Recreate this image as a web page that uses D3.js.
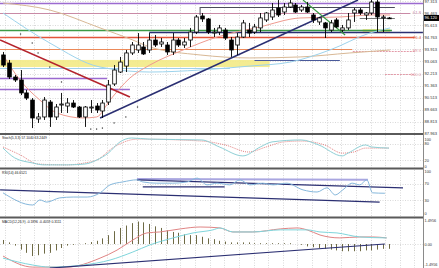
<!DOCTYPE html>
<html><head><meta charset="utf-8">
<script src="https://cdn.jsdelivr.net/npm/d3@7"></script>
<style>body{margin:0;background:#fff;overflow:hidden}svg{display:block;font-family:"Liberation Sans",Arial,sans-serif}</style>
</head><body><svg id="c" width="439" height="268"></svg>
<script>
// ---------- DATA ----------
const candleOpen  = [93.52,92.95,91.97,91.76,90.85,90.35,89.02,89.16,90.21,89.16, 90.00,89.93,90.14,89.86,89.16,89.79,89.93,89.58,90.21,91.48, 92.32,92.74,93.66,93.87,94.08,93.87,94.57,94.29,94.22,93.73, 94.57,94.22,94.57,95.13,96.26,96.05,95.06,95.13,95.27,94.57, 94.22,94.78,95.27,95.13,95.42,95.98,96.19,96.82,96.54,96.89, 97.03,96.68,96.89,96.33,95.84,95.77,95.27,95.98,95.27,95.42, 96.47,96.68,96.33,96.47,97.24,96.12,96.12];
const candleHigh  = [93.73,93.17,92.11,92.46,91.06,90.49,89.44,90.56,90.35,90.07, 90.85,90.49,90.35,89.93,89.93,90.35,90.14,90.35,91.76,92.81, 93.38,93.87,94.43,95.06,94.43,95.06,94.92,94.71,94.43,95.06, 94.71,94.71,95.42,96.33,96.47,96.12,95.42,95.63,95.42,94.78, 95.06,95.98,95.77,95.70,96.47,96.54,97.17,97.38,97.17,97.38, 97.17,97.03,97.24,96.47,96.19,95.84,95.98,96.12,95.63,96.47, 96.82,96.82,96.54,97.38,97.38,96.33,96.19];
const candleLow   = [92.67,91.83,91.62,90.70,90.35,88.38,88.74,88.95,88.46,88.95, 89.44,89.44,89.79,89.09,88.46,89.44,89.44,89.09,90.00,91.34, 92.25,92.32,93.52,93.66,93.52,93.66,94.08,94.08,93.52,93.52, 94.08,94.01,94.08,94.99,95.84,94.99,94.78,94.92,94.57,93.38, 93.52,94.71,94.78,94.99,95.13,95.84,95.98,96.19,96.33,96.82, 96.47,96.54,96.47,95.77,95.63,94.71,95.13,95.42,95.13,95.27, 95.84,96.33,95.98,96.33,95.13,95.13,96.05];
const candleClose = [92.81,91.97,91.76,90.85,90.49,89.09,89.16,90.35,89.16,89.86, 90.07,90.14,89.86,89.16,89.86,89.86,89.65,90.14,91.41,92.46, 93.02,93.66,94.22,94.22,93.59,94.57,94.22,94.43,93.73,94.57, 94.22,94.43,95.13,96.19,96.05,95.13,95.13,95.42,94.71,93.87, 94.78,95.77,95.06,95.49,96.12,96.47,96.68,96.33,96.89,97.17, 96.54,96.89,96.54,95.98,96.12,95.42,95.77,95.49,95.42,95.98, 96.68,96.47,96.47,97.24,96.19,96.19,96.12];

const priceTicks = [97.313,96.463,95.613,94.763,93.913,93.063,92.213,91.363,90.513,89.663,88.813,87.963];
const lastPrice = 96.120;

// moving averages: [candle index, price]
const maSlow  = [[0,97.17],[8,96.68],[16.6,95.42],[22.2,94.57],[25.1,94.08],[33.7,93.52],[42.2,93.31],[50.8,93.38],[59.3,93.66],[66.2,93.87]];
const maMid   = [[0,96.47],[8,94.36],[16.6,92.67],[25.1,92.32],[33.7,92.46],[42.2,92.74],[49.1,93.02],[55.9,93.87],[62.7,95.06],[66.2,95.42]];
const maFast  = [[0,93.52],[2.9,91.76],[6.3,90.35],[9.2,89.44],[13.7,89.09],[16,89.16],[18.3,90.35],[21.7,91.90],[25.1,92.81],[30.8,93.87],[36.6,94.78],[43.9,95.49],[50.8,96.12],[57.6,96.19],[63.2,96.33],[66.2,96.33]];
const sarIdx   = [3,5,6,8,10,15,16,17,19,21,23];
const sarPrice = [94.99,94.36,93.66,92.67,91.62,88.31,88.31,88.38,88.74,89.16,89.86];

// horizontal levels: price, from index, to index, kind
const levelPrice = [97.20,96.47,96.89,96.12,95.27,95.13,94.78,93.94,93.80,92.60,93.17,91.90,91.13,92.18];
const levelFrom  = [-1,-1,33.7,61,-1,25,-1,-1,59.8,-1,43,-1,-1,65.3];
const levelTo    = [72,69.6,67,67,66.5,71.8,70.4,59.7,70.4,38.8,57.6,17.8,21.7,70.4];
const levelKind  = ["purple","mauve","dark","gray","green","navy","red","orange","pinkDot","lightblue","slate","purple","purple","pinkDot"];
// fib labels
const fibText  = ["61.8","76.4","88.6","100.0"];
const fibPrice = [96.47,94.78,93.80,92.18];
const fibKind  = ["mauve","red","pink","pink"];
// bands: from idx, to idx, low, high
const bandFrom = [-1,61.5];
const bandTo   = [45.6,66.2];
const bandLow  = [92.67,95.06];
const bandHigh = [93.17,95.34];
// trendlines [i1,p1,i2,p2]
const trendLines = [[-0.5,94.57,21.7,90.56],[16.6,89.09,60.7,97.38],[51.3,97.38,58.5,94.92],[33.7,96.89,33.7,96.33]];
const trendKind  = ["darkred","navy","green","dark"];

// Stochastic knots [idx,value]
const stochMain   = [[0,64],[2,29],[5,11],[7,4],[11,4],[14,7],[16,21],[18,46],[20,86],[22,100],[25,96],[34,93],[37,68],[41,36],[44,68],[46,86],[51,93],[54,75],[58,36],[59,46],[62,75],[63,68],[66,64]];
const stochSignal = [[0,68],[3,39],[6,7],[11,4],[14,11],[16,21],[19,68],[23,96],[34,89],[38,75],[42,50],[45,68],[48,86],[51,89],[55,75],[58,46],[60,50],[62,64],[66,64]];
const stochTicks = [100,80,20,0];
// RSI knots
const rsiLine = [[0,48],[5.1,19],[6.3,31],[7.5,26],[9.7,36],[12,38],[14.4,38],[16.6,48],[18.3,67],[20.5,74],[22.9,79],[23.9,74],[26.3,71],[29,71],[31.5,74],[33.2,83],[34.9,67],[36.6,71],[38.8,67],[40.5,79],[42.2,67],[44.4,71],[46.2,67],[48.5,71],[51.3,55],[53.7,50],[55.4,60],[56.8,43],[58.1,55],[59.7,71],[61,67],[62.2,79],[63.2,48],[65.3,47]];
const rsiTrend = [[22.9,81,62.4,79],[22.9,79,68.4,60],[23.9,62,37.9,62],[-0.5,55,64.4,26]];
const rsiTrendKind = ["lavender","navy","navy","navy"];
const rsiTicks = [100,70,30,0];
// MACD
const macdHist = [0.25,0.1,-0.1,-0.35,-0.55,-0.75,-0.7,-0.6,-0.55,-0.4, -0.25,-0.1,-0.05,0.02,0.05,0.12,0.2,0.35,0.55,0.8, 1.0,1.15,1.3,1.4,1.35,1.25,1.1,1.0,0.85,0.75, 0.7,0.6,0.55,0.55,0.45,0.35,0.3,0.2,0.15,0.1, 0.1,0.1,0.1,0.05,0.05,0.05,0.05,0.05,0.05,0.05, 0.0,-0.05,-0.15,-0.2,-0.25,-0.3,-0.35,-0.4,-0.45,-0.45, -0.45,-0.45,-0.4,-0.4,-0.35,-0.3,-0.3];
const macdRed  = [[0,-0.75],[5.1,-1.44],[10.9,-1.44],[16.6,-0.88],[19.5,-0.38],[22.2,0.25],[24.6,0.69],[26.8,0.75],[30.3,0.94],[33.7,1.06],[37.1,1.0],[39.3,0.75],[42.7,0.75],[47.4,0.94],[50.3,1.0],[52,0.88],[54.2,0.56],[57.6,0.38],[61,0.44],[63.2,0.44],[65.6,0.38]];
const macdCyan = [[0,-0.88],[5.1,-1.31],[8,-1.44],[13.7,-1.31],[18.3,-1.0],[22.2,-0.5],[25.1,-0.06],[29.1,0.38],[32.5,0.69],[35.9,0.88],[37.1,1.0],[39.3,0.75],[42.7,0.75],[47.4,0.88],[52,0.88],[54.2,0.75],[57.1,0.69],[61,0.44],[65.6,0.38]];
const macdTrend = [[8,-1.5,65.3,0.0]];
const macdTicks = [1.4956,0,-1.4956];
const macdTickText = ["1.4956","0.00","-1.4956"];

const titles = ["Stoch(5,3,3) 57.1040 63.2449","RSI(14) 46.6521","MACD(12,26,9) -0.1896 -0.4059 0.3111"];

// ---------- STYLES ----------
const col = {purple:"#9b6ad0",mauve:"#c98aa6",dark:"#4a4a5a",gray:"#777",green:"#3c9a45",navy:"#2b2f72",
  red:"#e2553a",orange:"#ec8a5a",pinkDot:"#e39aa8",pink:"#e39aa8",lightblue:"#9fd0ea",slate:"#4a5a9a",
  darkred:"#b4232c",lavender:"#a9a6e0"};

// ---------- DRAW ----------
const svg = d3.select("#c");
const R = 423;
const x  = d3.scaleLinear().domain([0,66]).range([3,389]);
const yP = d3.scaleLinear().domain([87.963,97.313]).range([134,1]);
const yS = d3.scaleLinear().domain([0,100]).range([166,138]);
const yR = d3.scaleLinear().domain([0,100]).range([213,171]);
const yM = d3.scaleLinear().domain([-1.4956,1.4956]).range([268,220]);

const defs = svg.append("defs");
[["cm",0,134],["cs",135,168],["cr",169,217],["cmacd",218,268]].forEach(([id,a,b])=>{
  defs.append("clipPath").attr("id",id).append("rect").attr("x",0).attr("y",a).attr("width",R).attr("height",b-a);
});

// grid
const gGrid = svg.append("g").attr("stroke","#c9c9c9").attr("stroke-width",0.7).attr("stroke-dasharray","1,1.5");
const vIdx = d3.range(0,29).map(k=>0.34+2.5*k);
vIdx.forEach(v=>{ const px=Math.round(x(v))+0.5; if(px<R) gGrid.append("line").attr("x1",px).attr("x2",px).attr("y1",0).attr("y2",268); });
priceTicks.forEach(v=>{ const py=Math.round(yP(v))+0.5; gGrid.append("line").attr("x1",0).attr("x2",R).attr("y1",py).attr("y2",py); });
[80,20].forEach(v=>{ const py=Math.round(yS(v))+0.5; gGrid.append("line").attr("x1",0).attr("x2",R).attr("y1",py).attr("y2",py); });
[70,30].forEach(v=>{ const py=Math.round(yR(v))+0.5; gGrid.append("line").attr("x1",0).attr("x2",R).attr("y1",py).attr("y2",py); });
[0].forEach(v=>{ const py=Math.round(yM(v))+0.5; gGrid.append("line").attr("x1",0).attr("x2",R).attr("y1",py).attr("y2",py); });

// main panel
const gm = svg.append("g").attr("clip-path","url(#cm)");
bandFrom.forEach((f,i)=>{
  gm.append("rect").attr("x",x(f)).attr("width",x(bandTo[i])-x(f))
    .attr("y",yP(bandHigh[i])).attr("height",yP(bandLow[i])-yP(bandHigh[i]))
    .attr("fill","#f3ea86").attr("opacity",0.9);
});
levelPrice.forEach((p,i)=>{
  const k=levelKind[i]; const py=Math.round(yP(p))+0.5;
  gm.append("line").attr("x1",x(levelFrom[i])).attr("x2",x(levelTo[i])).attr("y1",py).attr("y2",py)
    .attr("stroke",col[k]).attr("stroke-width",(k==="green"||k==="red"||k==="purple"||k==="navy")?1.3:1)
    .attr("stroke-dasharray",k==="pinkDot"?"2,1":null);
});
const lineMA = d3.line().x(d=>x(d[0])).y(d=>yP(d[1])).curve(d3.curveMonotoneX);
[[maSlow,"#d8b895"],[maMid,"#9dd3ec"],[maFast,"#ef9a8f"]].forEach(([d,c])=>{
  gm.append("path").attr("d",lineMA(d)).attr("fill","none").attr("stroke",c).attr("stroke-width",1);
});
trendLines.forEach((t,i)=>{
  const k=trendKind[i];
  gm.append("line").attr("x1",x(t[0])).attr("y1",yP(t[1])).attr("x2",x(t[2])).attr("y2",yP(t[3]))
    .attr("stroke",col[k]).attr("stroke-width",k==="dark"?1:(k==="green"?1.2:1.6));
});
sarIdx.forEach((s,i)=>{
  gm.append("rect").attr("x",x(s)-0.6).attr("y",yP(sarPrice[i])-0.6).attr("width",1.2).attr("height",1.2).attr("fill","#333");
});
// candles
const gc = gm.append("g");
candleOpen.forEach((o,i)=>{
  const c=candleClose[i], cx=Math.round(x(i))+0.5;
  gc.append("line").attr("x1",cx).attr("x2",cx).attr("y1",yP(candleHigh[i])).attr("y2",yP(candleLow[i])).attr("stroke","#000").attr("stroke-width",0.9);
  const top=yP(Math.max(o,c)), bot=yP(Math.min(o,c));
  gc.append("rect").attr("x",cx-1.8).attr("width",3.6).attr("y",top).attr("height",Math.max(0.8,bot-top))
    .attr("fill",c>=o?"#fff":"#000").attr("stroke","#000").attr("stroke-width",0.8);
});
// fib labels
fibText.forEach((t,i)=>{
  svg.append("text").attr("x",421).attr("y",yP(fibPrice[i])+1.5).attr("text-anchor","end")
    .attr("font-size",4.2).attr("fill",col[fibKind[i]]).text(t);
});

// stochastic
const gs = svg.append("g").attr("clip-path","url(#cs)");
const lS = d3.line().x(d=>x(d[0])).y(d=>yS(d[1])).curve(d3.curveMonotoneX);
gs.append("path").attr("d",lS(stochSignal)).attr("fill","none").attr("stroke","#e07575").attr("stroke-width",0.9).attr("stroke-dasharray","1,1");
gs.append("path").attr("d",lS(stochMain)).attr("fill","none").attr("stroke","#8fd0d6").attr("stroke-width",1);

// RSI
const gr = svg.append("g").attr("clip-path","url(#cr)");
rsiTrend.forEach((t,i)=>{
  const k=rsiTrendKind[i];
  gr.append("line").attr("x1",x(t[0])).attr("y1",yR(t[1])).attr("x2",x(t[2])).attr("y2",yR(t[3]))
    .attr("stroke",col[k]).attr("stroke-width",k==="lavender"?2:1.2);
});
const lR = d3.line().x(d=>x(d[0])).y(d=>yR(d[1])).curve(d3.curveMonotoneX);
gr.append("path").attr("d",lR(rsiLine)).attr("fill","none").attr("stroke","#86b8dc").attr("stroke-width",1);

// MACD
const gM = svg.append("g").attr("clip-path","url(#cmacd)");
macdHist.forEach((v,i)=>{
  const cx=Math.round(x(i))+0.5;
  gM.append("line").attr("x1",cx).attr("x2",cx).attr("y1",yM(0)).attr("y2",yM(v)).attr("stroke","#6e6a45").attr("stroke-width",1);
});
const lM = d3.line().x(d=>x(d[0])).y(d=>yM(d[1])).curve(d3.curveMonotoneX);
gM.append("path").attr("d",lM(macdRed)).attr("fill","none").attr("stroke","#e08484").attr("stroke-width",1);
gM.append("path").attr("d",lM(macdCyan)).attr("fill","none").attr("stroke","#7fd6dc").attr("stroke-width",1);
macdTrend.forEach(t=>{
  gM.append("line").attr("x1",x(t[0])).attr("y1",yM(t[1])).attr("x2",x(t[2])).attr("y2",yM(t[3])).attr("stroke",col.navy).attr("stroke-width",1.2);
});

// separators & axis
[134,168.5,217.5].forEach(py=>{
  svg.append("line").attr("x1",0).attr("x2",R).attr("y1",py).attr("y2",py).attr("stroke","#5a5a5a").attr("stroke-width",2);
});
svg.append("line").attr("x1",R+0.5).attr("x2",R+0.5).attr("y1",0).attr("y2",268).attr("stroke","#8a8a8a").attr("stroke-width",1);

// axis labels
const lab = svg.append("g").attr("font-size",4.1).attr("fill","#333");
priceTicks.forEach((v,i)=>{ lab.append("text").attr("x",424.5).attr("y",Math.min(134.8,yP(v)+1.5)).text(v.toFixed(3)); });
stochTicks.forEach(v=>{ lab.append("text").attr("x",424.5).attr("font-size",3.9).attr("y",v===100?140.6:yS(v)+1.5).text(v); });
rsiTicks.forEach(v=>{ lab.append("text").attr("x",424.5).attr("font-size",3.9).attr("y",yR(v)+1.5).text(v); });
macdTicks.forEach((v,i)=>{ lab.append("text").attr("x",424.5).attr("font-size",3.8).attr("y",Math.min(265.5,yM(v)+1.5)).text(macdTickText[i]); });
// last price box
svg.append("rect").attr("x",424).attr("y",yP(lastPrice)-3).attr("width",15).attr("height",6).attr("fill","#000");
svg.append("text").attr("x",424.5).attr("y",yP(lastPrice)+1.5).attr("font-size",4.1).attr("fill","#fff").text(lastPrice.toFixed(3));

// panel titles
[[titles[0],139],[titles[1],173.5],[titles[2],222.5]].forEach(([t,py])=>{
  svg.append("text").attr("x",2).attr("y",py).attr("font-size",3.4).attr("fill","#222").text(t);
});
</script></body></html>
